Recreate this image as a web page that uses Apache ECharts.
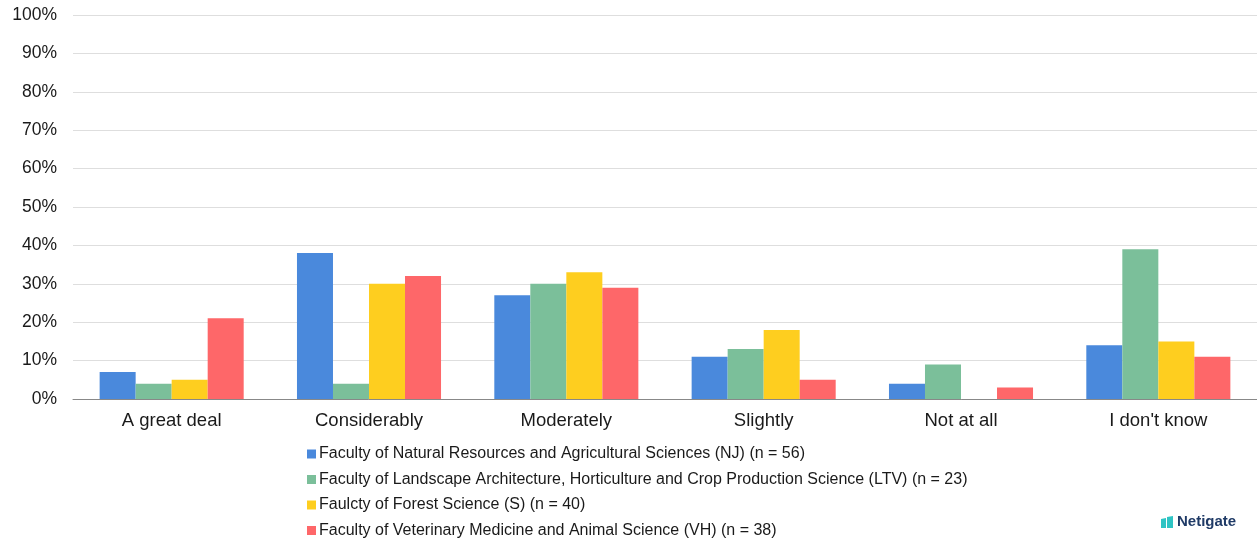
<!DOCTYPE html>
<html><head><meta charset="utf-8">
<script src="https://cdn.jsdelivr.net/npm/echarts@6/dist/echarts.min.js"></script>
<style>html,body{margin:0;padding:0;background:#fff}#c{width:1257px;height:540px}</style>
</head><body><div id="c"></div>
<script>
const categories = ["A great deal","Considerably","Moderately","Slightly","Not at all","I don't know"];
const seriesNames = [
  "Faculty of Natural Resources and Agricultural Sciences (NJ) (n = 56)",
  "Faculty of Landscape Architecture, Horticulture and Crop Production Science (LTV) (n = 23)",
  "Faulcty of Forest Science (S) (n = 40)",
  "Faculty of Veterinary Medicine and Animal Science (VH) (n = 38)"
];
const valuesNJ = [7,38,27,11,4,14];
const valuesLTV = [4,4,30,13,9,39];
const valuesS = [5,30,33,18,0,15];
const valuesVH = [21,32,29,5,3,11];
const colors = ["#4A89DC","#7BBF9A","#FECE1F","#FE6769"];
const allValues = [valuesNJ,valuesLTV,valuesS,valuesVH];

const chart = echarts.init(document.getElementById('c'));
chart.setOption({
  animation:false,
  textStyle:{fontFamily:'Liberation Sans, Arial, sans-serif'},
  grid:{left:73,right:0,top:15,bottom:141},
  legend:{
    orient:'vertical', left:307, top:446, padding:0, itemGap:9.5, itemWidth:9, itemHeight:9,
    icon:'rect',
    textStyle:{fontSize:16,color:'#1a1a1a',padding:[0,0,0,-2],lineHeight:16},
    data:seriesNames
  },
  xAxis:{type:'category',data:categories,
    axisLine:{lineStyle:{color:'#888',width:1}},axisTick:{show:false},
    axisLabel:{fontSize:18.5,color:'#1a1a1a',margin:12}},
  yAxis:{type:'value',min:0,max:100,interval:10,
    axisLabel:{formatter:'{value}%',fontSize:17.5,color:'#1a1a1a',margin:16},
    splitLine:{lineStyle:{color:'#dedede'}},axisLine:{show:false},axisTick:{show:false}},
  series: allValues.map((v,i)=>({
    name:seriesNames[i],type:'bar',data:v,barGap:'0%',barCategoryGap:'27%',
    itemStyle:{color:colors[i]}
  })),
  graphic:[
    {type:'polygon',shape:{points:[[1161,519],[1166,518],[1166,528],[1161,528]]},style:{fill:'#2EC4C4'}},
    {type:'polygon',shape:{points:[[1167,517],[1173,516],[1173,528],[1167,528]]},style:{fill:'#2EC4C4'}},
    {type:'text',left:1177,top:514,style:{text:'Netigate',fontSize:15,fontWeight:'bold',fill:'#1F3A66',fontFamily:'Liberation Sans, Arial, sans-serif'}}
  ]
});
</script></body></html>
